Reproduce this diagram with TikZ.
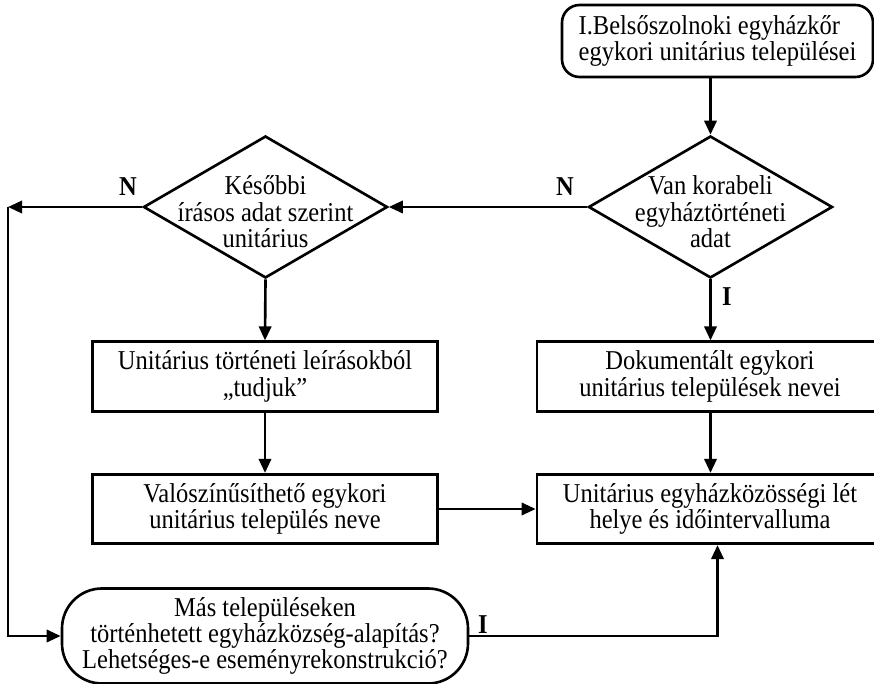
\documentclass[tikz,border=0pt]{standalone}
\usepackage{fontspec}
\setmainfont{Liberation Serif}[FakeStretch=0.9]
\usepackage{tikz}
\usetikzlibrary{arrows.meta,shapes.geometric}

\begin{document}
\begin{tikzpicture}[
  every node/.style={font=\fontsize{15.5}{15}\selectfont},
  txt/.style={align=center, yshift=-0.1cm},
  sidetxt/.style={align=center, xshift=-0.24cm},
  stepbox/.style={draw, line width=1.5pt, minimum width=6.9cm, minimum height=1.39cm, align=center},
  widebox/.style={stepbox, minimum width=7.4cm},
  decide/.style={draw, diamond, line width=1.5pt, inner sep=0pt, minimum width=4.88cm, minimum height=2.84cm},
  yesno/.style={font=\fontsize{15.5}{15}\selectfont\bfseries},
  arr/.style={line width=1.5pt, -{Triangle[length=8pt,width=7pt]}}
]
  \useasboundingbox (0,0) rectangle (17.48,13.68);
  \clip (0,0) rectangle (17.48,13.68);

  %% Start
  \node[draw, line width=1.5pt, rounded corners=10pt, minimum width=6.22cm, minimum height=1.44cm, align=left] (start) at (14.35,12.86) {I.Belsőszolnoki egyházkőr\\egykori unitárius települései};

  %% Decisions
  \node[decide, label={[txt]center:Van korabeli\\egyháztörténeti\\adat}] (ask) at (14.21,9.54) {};
  \node[decide, label={[txt]center:Későbbi\\írásos adat szerint\\unitárius}] (kes) at (5.31,9.54) {};

  %% Boxes
  \node[stepbox] (leir) at (5.30,6.15) {Unitárius történeti leírásokból\\„tudjuk”};
  \node[stepbox] (val) at (5.30,3.50) {Valószínűsíthető egykori\\unitárius település neve};
  \node[widebox, label={[sidetxt]center:Dokumentált egykori\\unitárius települések nevei}] (dok) at (14.44,6.15) {};
  \node[widebox, label={[sidetxt]center:Unitárius egyházközösségi lét\\helye és időintervalluma}] (res) at (14.44,3.50) {};

  %% Other settlements
  \node[draw, line width=1.5pt, rounded corners=0.8cm, minimum width=8.12cm, minimum height=1.9cm, align=center] (mas) at (5.30,0.96) {Más településeken\\történhetett egyházközség-alapítás?\\Lehetséges-e eseményrekonstrukció?};

  \coordinate (lx) at (0.16,9.54);

  %% Labels
  \node[yesno] (n1) at (11.30,9.94) {N};
  \node[yesno] (n2) at (2.56,9.94) {N};
  \node[yesno] (i1) at (14.54,7.74) {I};
  \node[yesno] (i2) at (9.66,1.18) {I};

  %% Connectors
  \draw[arr] (start.south -| ask.north) -- (ask.north);
  \draw[arr] (ask.west) -- (kes.east);
  \draw[arr] (kes.west) -- (lx);
  \draw[arr] (lx) |- (mas.west);
  \draw[arr] (ask.south) -- (ask.south |- dok.north);
  \draw[arr] (kes.south) -- (leir.north);
  \draw[arr] (leir.south) -- (val.north);
  \draw[arr] (ask.south |- dok.south) -- (ask.south |- res.north);
  \draw[arr] (val.east) -- (res.west);
  \draw[arr] (mas.east) -| ([xshift=0.14cm]ask.south |- res.south);
\end{tikzpicture}
\end{document}
